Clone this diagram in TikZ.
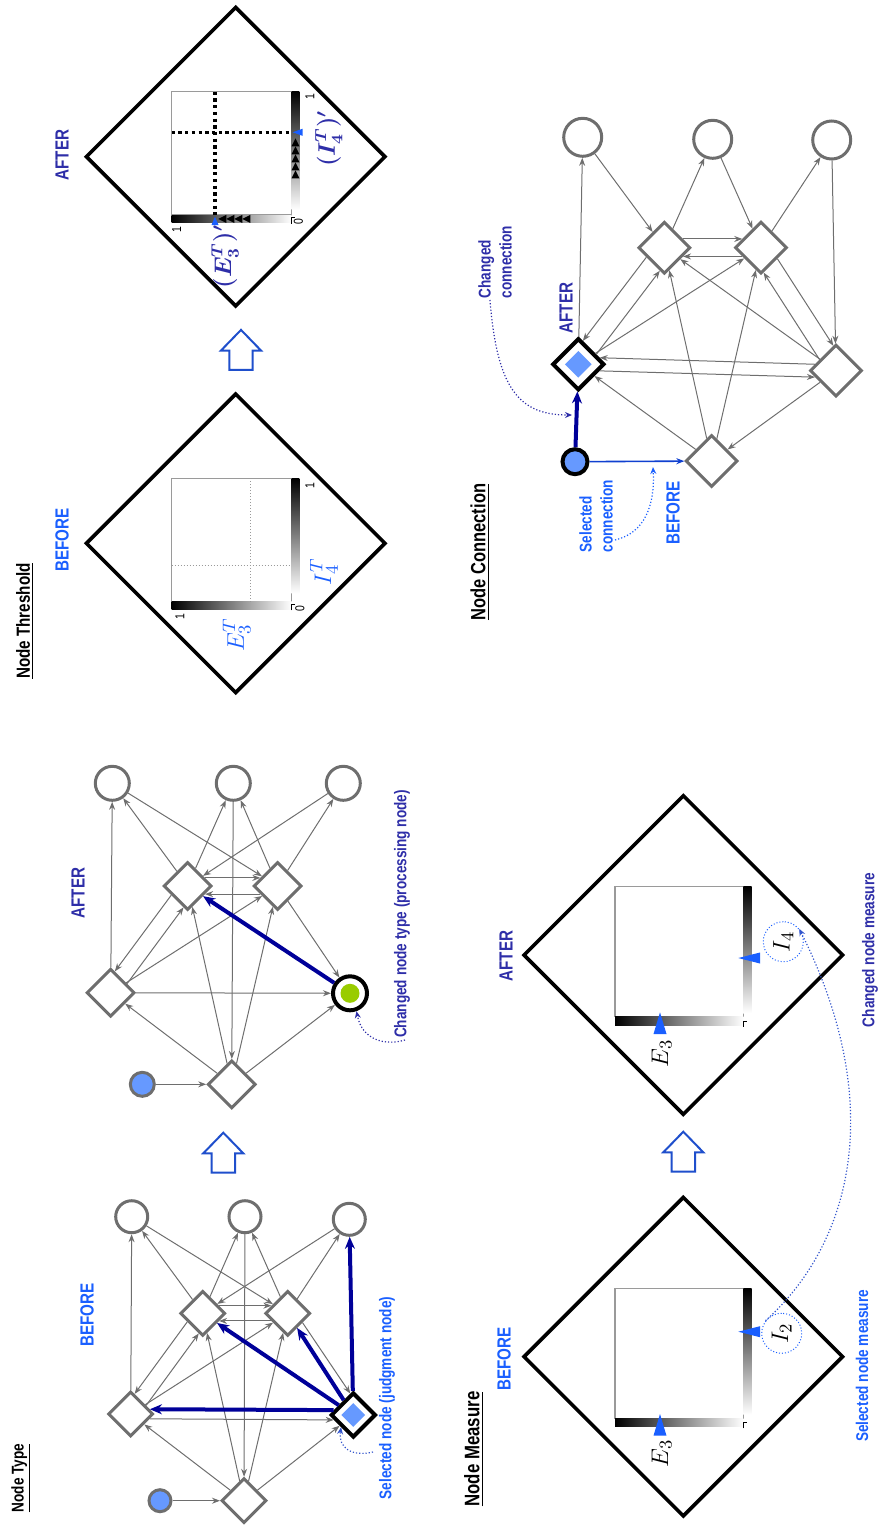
\documentclass[tikz,border=0pt]{standalone}
\usepackage{fontspec}
\usepackage{amsmath}
\usetikzlibrary{shapes.geometric, arrows.meta}
\newfontfamily\narrowsf[FakeStretch=0.8]{Liberation Sans}
\definecolor{net-gray}{HTML}{6E6E6E}
\definecolor{box-gray}{HTML}{9A9A9A}
\definecolor{sel-blue}{HTML}{1A5FFF}
\definecolor{chg-blue}{HTML}{2E2EA8}
\definecolor{edge-navy}{HTML}{000099}
\definecolor{link-blue}{HTML}{1040D0}
\definecolor{fill-blue}{HTML}{6699FF}
\definecolor{proc-green}{HTML}{99CC00}
\definecolor{arrow-blue}{HTML}{1F4FCC}
\definecolor{dot-blue}{HTML}{3355CC}

\tikzset{
  outnode/.style={circle, draw=net-gray, line width=1.5pt, fill=white,
    inner sep=0pt, minimum size=#1}, outnode/.default=16pt,
  hidnode/.style={diamond, draw=net-gray, line width=1.5pt, fill=white,
    inner sep=0pt, minimum size=#1}, hidnode/.default=22.5pt,
  selnode/.style={hidnode=#1, draw=black, line width=2pt}, selnode/.default=22.5pt,
  selmark/.style={diamond, fill=fill-blue, inner sep=0pt, minimum size=#1},
  selmark/.default=12pt,
  innode/.style={circle, draw=net-gray, line width=1.5pt, fill=fill-blue,
    inner sep=0pt, minimum size=#1}, innode/.default=11pt,
  procnode/.style={circle, draw=black, line width=2pt, fill=white,
    inner sep=0pt, minimum size=17pt},
  procmark/.style={circle, fill=proc-green, inner sep=0pt, minimum size=9.5pt},
  netlink/.style={net-gray, line width=0.5pt, -{Stealth[length=4pt, width=3pt]}},
  keylink/.style={edge-navy, line width=2pt, -{Stealth[length=6pt, width=5pt]}},
  hintarrow/.style={densely dotted, line width=0.6pt, -{Stealth[length=3.5pt, width=3pt]}},
  panelframe/.style={diamond, draw=black, line width=1.8pt, inner sep=0pt, minimum size=#1},
  axisbox/.style={draw=box-gray, line width=0.6pt},
  heading/.style={rotate=90, font=\narrowsf\bfseries\fontsize{#1}{#1}\selectfont},
  stage/.style={rotate=90, font=\narrowsf\bfseries\fontsize{9.5}{11}\selectfont},
  selnote/.style={rotate=90, sel-blue, align=left, font=\narrowsf\bfseries\fontsize{8.5}{10.5}\selectfont},
  chgnote/.style={rotate=90, chg-blue, align=left, font=\narrowsf\bfseries\fontsize{8.5}{10.5}\selectfont},
  ticklbl/.style={rotate=90, inner sep=0pt, font=\narrowsf\fontsize{6.5}{7}\selectfont},
  measlbl/.style={rotate=90, inner sep=0pt, font=\fontsize{13}{15}\selectfont},
  measring/.style={circle, draw=sel-blue, densely dotted, line width=0.5pt,
    inner sep=0pt, minimum size=20pt, rotate=90, font=\fontsize{13}{15}\selectfont},
  bigarrow/.style={draw=arrow-blue, line width=1pt, fill=white}
}

\begin{document}
\begin{tikzpicture}[x=0.5pt, y=-0.5pt]
  \useasboundingbox (0,0) rectangle (880,1526);

  % headings and before/after tags
  \node[heading=8.5] (hdtype) at (21,1478) {\underline{Node Type}};
  \node[heading=9.5] (hdthr) at (25,621) {\underline{Node Threshold}};
  \node[heading=10.5] (hdmeas) at (474,1449) {\underline{Node Measure}};
  \node[heading=10.3] (hdconn) at (480,552) {\underline{Node Connection}};
  \node[stage, sel-blue] (tbtag) at (87,1315) {BEFORE};
  \node[stage, chg-blue] (tatag) at (78,893) {AFTER};
  \node[stage, sel-blue] (hbtag) at (62,540) {BEFORE};
  \node[stage, chg-blue] (hatag) at (62,155) {AFTER};
  \node[stage, sel-blue] (mbtag) at (504,1359) {BEFORE};
  \node[stage, chg-blue] (matag) at (506,956) {AFTER};
  \node[stage, sel-blue] (cbtag) at (673,513) {BEFORE};
  \node[stage, chg-blue] (catag) at (566,308) {AFTER};

  \foreach \ax/\ay in {223.3/1153.3, 241/350.5, 683.3/1152.3}
    \draw[bigarrow, shift={(\ax,\ay)}] (0,-20.6) -- (20,0) -- (11.7,0)
      -- (11.7,19.4) -- (-11.7,19.4) -- (-11.7,0) -- (-20,0) -- cycle;

  % node type, before
  \node[outnode] (tbo1) at (131.7,1216.7) {};
  \node[outnode] (tbo2) at (245,1216.7) {};
  \node[outnode] (tbo3) at (349.3,1219.3) {};
  \node[hidnode] (tbh1) at (202.7,1313.3) {};
  \node[hidnode] (tbh2) at (287.7,1313.3) {};
  \node[hidnode] (tbl) at (130.7,1414) {};
  \node[selnode] (tbs) at (353.3,1415) {};
  \node[selmark] (tbsm) at (tbs) {};
  \node[hidnode] (tbb) at (244,1500.7) {};
  \node[innode] (tbin) at (160,1500.7) {};
  \draw[netlink] (tbin) -- (tbb);
  \draw[netlink] (tbl) -- (tbo1);
  \draw[netlink] (tbh1) -- (tbo1);
  \draw[netlink] (tbo1) -- (tbh2);
  \draw[netlink] (tbh1) -- (tbo2);
  \draw[netlink] (tbo2) -- (tbb);
  \draw[netlink] (tbh2) -- (tbo2);
  \draw[netlink] (tbo3) -- (tbh1);
  \draw[netlink] (tbh2) -- (tbo3);
  \draw[netlink] (tbh1.25) -- (tbh2.155);
  \draw[netlink] (tbh2.205) -- (tbh1.335);
  \draw[netlink] (tbh1.209) -- (tbl.79);
  \draw[netlink] (tbl.29) -- (tbh1.259);
  \draw[netlink] (tbl) -- (tbh2);
  \draw[netlink] (tbl.346) -- (tbs.194);
  \draw[netlink] (tbh2.328) -- (tbs.98);
  \draw[netlink] (tbb) -- (tbl);
  \draw[netlink] (tbb) -- (tbh1);
  \draw[netlink] (tbb) -- (tbh2);
  \draw[netlink] (tbb) -- (tbs);
  \draw[keylink] (tbs.166) -- (tbl.14);
  \draw[keylink] (tbs) -- (tbh1);
  \draw[keylink] (tbs) -- (tbh2);
  \draw[keylink] (tbs) -- (tbo3);
  \node[selnote] (tbnote) at (387,1398) {Selected node (judgment node)};
  \coordinate (tbhint) at (373,1452);
  \draw[hintarrow, dot-blue] (tbhint) .. controls (352,1457) and (338,1448) .. (tbs.south west);

  % node type, after
  \node[outnode=17pt] (tao1) at (112.3,783.3) {};
  \node[outnode=17pt] (tao2) at (233.3,783.3) {};
  \node[outnode=17pt] (tao3) at (343.3,783.3) {};
  \node[hidnode=24pt] (tah1) at (187.7,886) {};
  \node[hidnode=24pt] (tah2) at (277.7,886) {};
  \node[hidnode=24pt] (tal) at (110.7,992.7) {};
  \node[procnode] (tas) at (350,993.3) {};
  \node[procmark] (tasm) at (tas) {};
  \node[hidnode=24pt] (tab) at (231.7,1084.3) {};
  \node[innode=12pt] (tain) at (142.3,1084.3) {};
  \draw[netlink] (tain) -- (tab);
  \draw[netlink] (tal) -- (tao1);
  \draw[netlink] (tah1) -- (tao1);
  \draw[netlink] (tao1) -- (tah2);
  \draw[netlink] (tah1) -- (tao2);
  \draw[netlink] (tao2) -- (tab);
  \draw[netlink] (tah2) -- (tao2);
  \draw[netlink] (tao3) -- (tah1);
  \draw[netlink] (tah2) -- (tao3);
  \draw[netlink] (tah1.25) -- (tah2.155);
  \draw[netlink] (tah2.205) -- (tah1.335);
  \draw[netlink] (tah1.209) -- (tal.79);
  \draw[netlink] (tal.29) -- (tah1.259);
  \draw[netlink] (tal) -- (tah2);
  \draw[netlink] (tal) -- (tas);
  \draw[netlink] (tah2) -- (tas);
  \draw[netlink] (tab) -- (tal);
  \draw[netlink] (tab) -- (tah1);
  \draw[netlink] (tab) -- (tah2);
  \draw[netlink] (tab) -- (tas);
  \draw[keylink] (tas) -- (tah1);
  \node[chgnote] (tanote) at (402,914) {Changed node type (processing node)};
  \coordinate (tahint) at (405,1040);
  \draw[hintarrow, chg-blue] (tahint) .. controls (385,1046) and (362,1040) .. (tas.290);

  % node threshold, before
  \begin{scope}[shift={(235.7,543.3)}]
    \node[panelframe=150pt] (hbframe) at (0,0) {};
    \draw[axisbox] (-64,-65) rectangle (56,58.4);
    \shade[top color=black, bottom color=white] (56,-65) rectangle (63.6,50);
    \shade[left color=black, right color=white] (-64,58.4) rectangle (56,66);
    \draw[line width=0.5pt] (56,67) -- (56,61) -- (59,61);
    \draw[box-gray, densely dotted, line width=0.5pt] (14.3,-65) -- (14.3,58.4);
    \draw[box-gray, densely dotted, line width=0.5pt] (-64,22.4) -- (56,22.4);
    \node[ticklbl] (hbx1) at (-55.7,73.4) {1};
    \node[ticklbl] (hbx0) at (64.3,65.7) {0};
    \node[ticklbl] (hby1) at (74.3,-57.3) {1};
    \node[measlbl, sel-blue] (hbe3) at (1,91.7) {$E_3^T$};
    \node[measlbl, sel-blue] (hbi4) at (88.3,28.4) {$I_4^T$};
  \end{scope}

  % node threshold, after
  \begin{scope}[shift={(235.7,156.7)}]
    \node[panelframe=150pt] (haframe) at (0,0) {};
    \draw[axisbox] (-64,-65) rectangle (56,58.3);
    \shade[top color=black, bottom color=white] (56,-65) rectangle (63.6,53);
    \shade[left color=black, right color=white] (-64,58.3) rectangle (56,66);
    \draw[line width=0.5pt] (56,67) -- (56,61) -- (59,61);
    \draw[line width=1.65pt, dash pattern=on 1.65pt off 1.7pt] (-20.7,-65) -- (-20.7,58.3);
    \draw[line width=1.65pt, dash pattern=on 1.65pt off 1.7pt] (-64,-24.4) -- (56,-24.4);
    \foreach \t in {-18.4,-10.4,-2.4,5.6,13.6}
      \fill (59.8,\t) -- (55.8,\t+8) -- (63.8,\t+8) -- cycle;
    \foreach \t in {-17.4,-9.4,-1.4,6.6}
      \fill (\t,62.2) -- (\t+8,58.2) -- (\t+8,66.2) -- cycle;
    \fill[sel-blue] (57,-24.4) -- (67,-28) -- (67,-20.8) -- cycle;
    \fill[sel-blue] (-20.7,60) -- (-24.2,68.3) -- (-17.2,68.3) -- cycle;
    \node[ticklbl] (hax1) at (-59,73.3) {1};
    \node[ticklbl] (hax0) at (62.6,65) {0};
    \node[ticklbl] (hay1) at (74.3,-60) {1};
    \node[measlbl, chg-blue, font=\boldmath\fontsize{12}{14}\selectfont] (hae3) at (-10.7,100) {$(E_3^T)'$};
    \node[measlbl, chg-blue, font=\boldmath\fontsize{12}{14}\selectfont] (hai4) at (93,-18) {$(I_4^T)'$};
  \end{scope}

  % node measure, before
  \begin{scope}[shift={(683.3,1356.7)}]
    \node[panelframe=160pt] (mbframe) at (0,0) {};
    \draw[axisbox] (-68.3,-68.4) rectangle (60,61.6);
    \shade[top color=black, bottom color=white] (60,-68.4) rectangle (68.4,58);
    \shade[left color=black, right color=white] (-68.3,61.6) rectangle (60,70);
    \draw[line width=0.5pt] (60,71.6) -- (60,66) -- (63.3,66);
    \fill[sel-blue] (-23.3,57.3) -- (-29.8,79) -- (-16.8,79) -- cycle;
    \fill[sel-blue] (55,-25) -- (76.7,-30.5) -- (76.7,-19.5) -- cycle;
    \node[measlbl] (mbe3) at (-21.6,96.6) {$E_3$};
    \node[measring] (mbi2) at (98.4,-23.4) {$I_2$};
  \end{scope}
  \node[selnote] (mbnote) at (862,1366) {Selected node measure};

  % node measure, after
  \begin{scope}[shift={(683.3,955)}]
    \node[panelframe=160pt] (maframe) at (0,0) {};
    \draw[axisbox] (-68.3,-68.4) rectangle (60,61.6);
    \shade[top color=black, bottom color=white] (60,-68.4) rectangle (68.4,58);
    \shade[left color=black, right color=white] (-68.3,61.6) rectangle (60,70);
    \draw[line width=0.5pt] (60,71.6) -- (60,66) -- (63.3,66);
    \fill[sel-blue] (-23.3,57.3) -- (-29.8,79) -- (-16.8,79) -- cycle;
    \fill[sel-blue] (55,3) -- (76.7,-2.5) -- (76.7,8.5) -- cycle;
    \node[measlbl] (mae3) at (-21.6,98.3) {$E_3$};
    \node[measring] (mai4) at (100,-13.3) {$I_4$};
  \end{scope}
  \node[chgnote] (manote) at (870,950) {Changed node measure};
  \draw[hintarrow, dot-blue] (mbi2.52) .. controls (855,1240) and (885,1100) .. (mai4.309);

  % node connection
  \node[outnode=19pt] (co1) at (582.7,137.3) {};
  \node[outnode=19pt] (co2) at (712.7,139.3) {};
  \node[outnode=19pt] (co3) at (831.7,140) {};
  \node[hidnode=26pt] (ch1) at (664.3,247.7) {};
  \node[hidnode=26pt] (ch2) at (761,247.7) {};
  \node[selnode=26pt] (cs) at (578.3,364.3) {};
  \node[selmark=13.5pt] (csm) at (cs) {};
  \node[hidnode=26pt] (cr) at (836,370.7) {};
  \node[hidnode=26pt] (cb) at (711.7,461) {};
  \node[innode=12.5pt, draw=black, line width=2pt] (cin) at (575,461.7) {};
  \draw[netlink] (cs) -- (co1);
  \draw[netlink] (co1) -- (ch1);
  \draw[netlink] (ch1) -- (co2);
  \draw[netlink] (co2) -- (ch2);
  \draw[netlink] (ch2) -- (co3);
  \draw[netlink] (co3) -- (cr);
  \draw[netlink] (ch1.25) -- (ch2.155);
  \draw[netlink] (ch2.205) -- (ch1.335);
  \draw[netlink] (ch1.208) -- (cs.79);
  \draw[netlink] (cs.29) -- (ch1.259);
  \draw[netlink] (cs) -- (ch2);
  \draw[netlink] (cr.163) -- (cs.17);
  \draw[netlink] (cs.343) -- (cr.197);
  \draw[netlink] (cr) -- (ch1);
  \draw[netlink] (ch2.326) -- (cr.96);
  \draw[netlink] (cr.146) -- (ch2.276);
  \draw[netlink] (cb) -- (cs);
  \draw[netlink] (cb) -- (ch1);
  \draw[netlink] (cb) -- (ch2);
  \draw[netlink] (cr) -- (cb);
  \draw[keylink] (cin) -- (cs);
  \draw[netlink, link-blue, line width=0.8pt] (cin) -- (cb);
  \node[chgnote] (csnote) at (495,262) {Changed\\connection};
  \node[selnote] (cbnote) at (596,516) {Selected\\connection};
  \coordinate (cstail) at (490,300);
  \coordinate (cshead) at (572,415);
  \draw[hintarrow, chg-blue] (cstail) .. controls (497,390) and (520,415) .. (cshead);
  \coordinate (cbtail) at (615,540);
  \coordinate (cbhead) at (653,467);
  \draw[hintarrow, sel-blue] (cbtail) .. controls (645,533) and (655,505) .. (cbhead);
\end{tikzpicture}
\end{document}
